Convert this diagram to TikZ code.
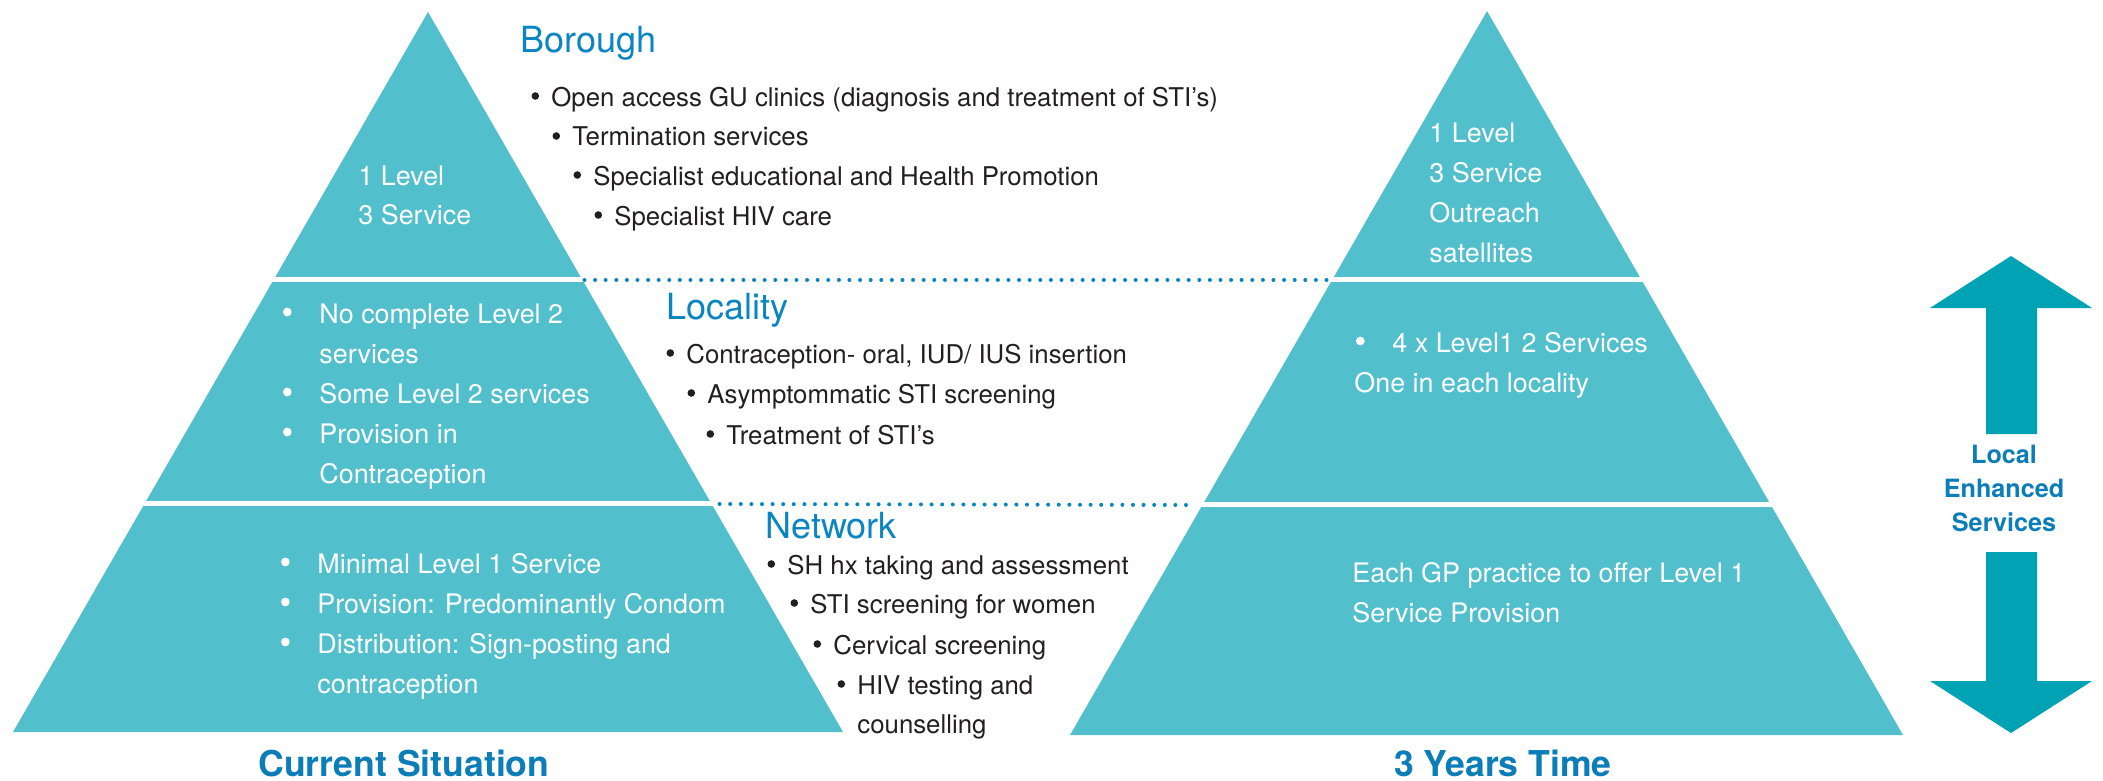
\documentclass[tikz,border=0pt]{standalone}
\usepackage{fontspec}
\setmainfont{TeX Gyre Heros}
\usepackage{tikz}
\usetikzlibrary{calc}

\definecolor{pyrfill}{HTML}{52BFCC}
\definecolor{arrfill}{HTML}{00A3B3}
\definecolor{headblue}{HTML}{0A85C3}
\definecolor{titleblue}{HTML}{0B7DB8}
\definecolor{bodytext}{HTML}{231F20}

% bullets drawn in front of a text line
\newcommand\wbul[1]{\fill[white] ([xshift=-15.85pt,yshift=5.5pt]#1.base west) circle (2.2pt);}
\newcommand\kbul[1]{\fill[bodytext] ([xshift=-7.85pt,yshift=5pt]#1.base west) circle (1.9pt);}

\tikzset{
  gap/.style={draw=white, line width=2.5pt},
  dotline/.style={draw=headblue, line width=2pt, line cap=round, dash pattern=on 0pt off 5.3pt},
  wtxt/.style={anchor=base west, inner sep=0pt, text=white, font=\fontsize{13.45}{20}\selectfont},
  ktxt/.style={anchor=base west, inner sep=0pt, text=bodytext, font=\fontsize{12.9}{20}\selectfont},
  head/.style={anchor=base west, inner sep=0pt, text=headblue, font=\fontsize{18}{22}\selectfont},
  title/.style={anchor=base, inner sep=0pt, text=titleblue, font=\fontsize{17.8}{22}\selectfont\bfseries},
  les/.style={anchor=base, inner sep=0pt, text=titleblue, font=\fontsize{12.6}{17}\selectfont\bfseries},
}

\begin{document}
\begin{tikzpicture}[x=0.5pt, y=-0.5pt]
    \useasboundingbox (0,0) rectangle (2103,781);

    % current situation pyramid
    \coordinate (la) at (428,12);
    \coordinate (lbl) at (13,732);
    \coordinate (lbr) at (843,732);
    \fill[pyrfill] (la) -- (lbr) -- (lbl) -- cycle;
    \coordinate (l1w) at ($(la)!0.3722!(lbl)$);
    \coordinate (l1e) at ($(la)!0.3722!(lbr)$);
    \coordinate (l2w) at ($(la)!0.6833!(lbl)$);
    \coordinate (l2e) at ($(la)!0.6833!(lbr)$);
    \draw[gap] ([xshift=-3pt]l1w) -- ([xshift=3pt]l1e);
    \draw[gap] ([xshift=-3pt]l2w) -- ([xshift=3pt]l2e);

    % 3 years pyramid
    \coordinate (ra) at (1487,11);
    \coordinate (rbl) at (1070,735);
    \coordinate (rbr) at (1903,735);
    \fill[pyrfill] (ra) -- (rbr) -- (rbl) -- cycle;
    \coordinate (r1w) at ($(ra)!0.3715!(rbl)$);
    \coordinate (r1e) at ($(ra)!0.3715!(rbr)$);
    \coordinate (r2w) at ($(ra)!0.6823!(rbl)$);
    \coordinate (r2e) at ($(ra)!0.6823!(rbr)$);
    \draw[gap] ([xshift=-3pt]r1w) -- ([xshift=3pt]r1e);
    \draw[gap] ([xshift=-3pt]r2w) -- ([xshift=3pt]r2e);

    % tier links
    \draw[dotline] ([xshift=1pt]l1e) -- ([xshift=-1pt]r1w);
    \draw[dotline] ([xshift=4pt]l2e) -- ([xshift=-7pt]r2w);

    % up and down arrows
    \fill[arrfill] (2011,256) -- (2092,308) -- (2037,308) -- (2037,434) -- (1986,434) -- (1986,308) -- (1930,308) -- cycle;
    \fill[arrfill] (1986,552) -- (2037,552) -- (2037,681) -- (2092,681) -- (2011,733) -- (1930,681) -- (1986,681) -- cycle;
    \node[les] (les1) at (2004,463) {Local};
    \node[les] (les2) at (2004,497) {Enhanced};
    \node[les] (les3) at (2004,531) {Services};

    % left pyramid texts
    \node[wtxt] (lt1) at (358,185) {1 Level};
    \node[wtxt] (lt2) at (358,224) {3 Service};
    \node[wtxt] (lm1) at (319,323) {No complete Level 2};
    \node[wtxt] (lm2) at (319,363) {services};
    \node[wtxt] (lm3) at (319,403) {Some Level 2 services};
    \node[wtxt] (lm4) at (319,443) {Provision in};
    \node[wtxt] (lm5) at (319,483) {Contraception};
    \node[wtxt] (lb1) at (317,573) {Minimal Level 1 Service};
    \node[wtxt] (lb2) at (317,613) {Provision: Predominantly Condom};
    \node[wtxt] (lb3) at (317,653) {Distribution: Sign-posting and};
    \node[wtxt] (lb4) at (317,693) {contraception};
    \wbul{lm1} \wbul{lm3} \wbul{lm4}
    \wbul{lb1} \wbul{lb2} \wbul{lb3}

    % right pyramid texts
    \node[wtxt] (rt1) at (1429,142) {1 Level};
    \node[wtxt] (rt2) at (1429,182) {3 Service};
    \node[wtxt] (rt3) at (1429,222) {Outreach};
    \node[wtxt] (rt4) at (1429,262) {satellites};
    \node[wtxt] (rm1) at (1392,352) {4 x Level1 2 Services};
    \node[wtxt] (rm2) at (1354,392) {One in each locality};
    \node[wtxt] (rb1) at (1352,582) {Each GP practice to offer Level 1};
    \node[wtxt] (rb2) at (1352,622) {Service Provision};
    \wbul{rm1}

    % borough
    \node[head] (borough) at (520,53) {Borough};
    \node[ktxt] (bo1) at (551,106) {Open access GU clinics (diagnosis and treatment of STI's)};
    \node[ktxt] (bo2) at (572,146) {Termination services};
    \node[ktxt] (bo3) at (593,185) {Specialist educational and Health Promotion};
    \node[ktxt] (bo4) at (614,225) {Specialist HIV care};
    \kbul{bo1} \kbul{bo2} \kbul{bo3} \kbul{bo4}

    % locality
    \node[head] (locality) at (666,319) {Locality};
    \node[ktxt] (lo1) at (686,363) {Contraception- oral, IUD/ IUS insertion};
    \node[ktxt] (lo2) at (707,403) {Asymptommatic STI screening};
    \node[ktxt] (lo3) at (726,444) {Treatment of STI's};
    \kbul{lo1} \kbul{lo2} \kbul{lo3}

    % network
    \node[head] (network) at (765,538) {Network};
    \node[ktxt] (ne1) at (787,574) {SH hx taking and assessment};
    \node[ktxt] (ne2) at (810,613) {STI screening for women};
    \node[ktxt] (ne3) at (833,654) {Cervical screening};
    \node[ktxt] (ne4) at (857,694) {HIV testing and};
    \node[ktxt] (ne5) at (857,733) {counselling};
    \kbul{ne1} \kbul{ne2} \kbul{ne3} \kbul{ne4}

    % captions
    \node[title] (now) at (404,776) {Current Situation};
    \node[title] (later) at (1503,776) {3 Years Time};
\end{tikzpicture}
\end{document}
